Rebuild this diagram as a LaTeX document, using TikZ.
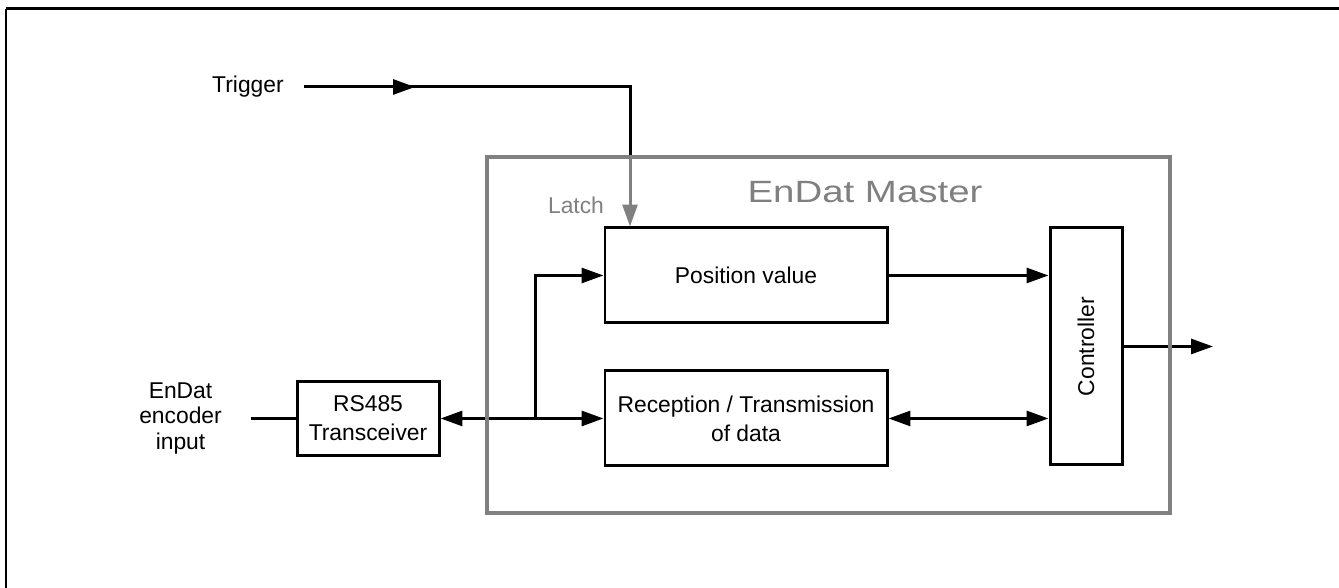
\documentclass[tikz,border=0pt]{standalone}
\usepackage{fontspec}
\setsansfont{Liberation Sans}
\newfontfamily\titlefont[FakeStretch=1.25]{Liberation Sans}
\usepackage{graphicx}
\RequirePackage{xcolor}
\tikzset{every picture/.style={/utils/exec={\sffamily}}}
\usetikzlibrary{calc}
\usetikzlibrary{positioning}
\usetikzlibrary{arrows.meta}
\definecolor{mastergray}{HTML}{808080}

\begin{document}
\begin{tikzpicture}[
  every node/.style={font=\fontsize{13}{14.5}\selectfont},
  block/.style={draw, line width=1.7pt, inner sep=0pt, align=center,
    font=\fontsize{13}{16.5}\selectfont},
  wire/.style={line width=1.7pt},
  onearrow/.style={-{Triangle[length=12.5pt,width=8.5pt]}},
  twoarrow/.style={{Triangle[length=12.5pt,width=8.5pt]}-{Triangle[length=12.5pt,width=8.5pt]}},
]
  \useasboundingbox (0,0) rectangle (26.78,11.76);

  % frame (only top and left edge)
  \draw [line width=1.1pt] (0.124,0) -- (0.124,11.58);
  \draw [line width=1.7pt] (0.124,11.58) -- (26.78,11.58);

  \node [block, minimum width=5.64cm, minimum height=1.9cm] (posval) at (14.92,6.25) {Position value};
  \node [block, minimum width=5.64cm, minimum height=1.9cm, below=0.9 of posval] (rxtx) {
    Reception / Transmission\\of data};
  \node [block, minimum width=1.44cm, minimum height=4.74cm] (ctrl) at (21.72,4.83) {\rotatebox{90}{Controller}};
  \node [block, minimum width=2.84cm, minimum height=1.48cm, left=3.26 of rxtx] (rs485) {RS485\\Transceiver};
  \node [align=center, left=1.35 of rs485] (encin) {EnDat\\encoder\\input};

  \coordinate [xshift=1.9cm] (split) at (rs485.east);
  \coordinate (out) at (24.26,4.84);

  \draw [wire, shorten <=0.45cm] (encin) -- (rs485);
  \draw [wire, twoarrow] (rs485.east) -- (rxtx.west);
  \draw [wire, onearrow] (split) |- (posval.west);
  \draw [wire, onearrow] (posval.east) -- (posval.east -| ctrl.west);
  \draw [wire, twoarrow] (rxtx.east) -- (rxtx.east -| ctrl.west);
  \draw [wire, onearrow] (ctrl.east) -- (ctrl.east -| out);

  \node [draw=mastergray, line width=2.5pt, minimum width=13.66cm, minimum height=7.12cm] (master) at (16.57,5.06) {};
  \node [text=mastergray, font=\titlefont\fontsize{17.5}{20}\selectfont] (mastertitle) at (17.3,7.92) {EnDat Master};

  \node (trigger) at (4.96,10.02) {Trigger};
  \coordinate (trigmid) at (8.3,10.02);
  \coordinate (trigbend) at (12.6,10.02);
  \draw [wire, shorten <=0.28cm] (trigger.east) -- (trigbend) -- (trigbend |- master.north);
  \draw [wire, shorten <=0.28cm, onearrow] (trigger.east) -- (trigmid);
  \draw [wire, draw=mastergray, onearrow] (trigbend |- master.north) -- (trigbend |- posval.north);
  \node [text=mastergray] (latch) at (11.52,7.66) {Latch};

\end{tikzpicture}
\end{document}
